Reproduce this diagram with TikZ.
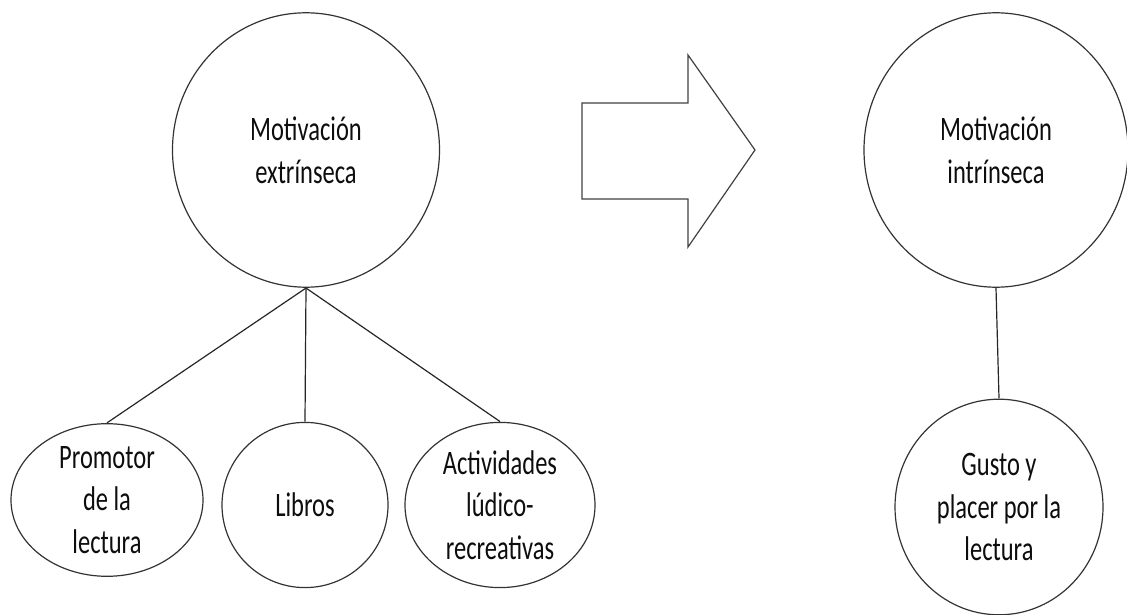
\documentclass[tikz,border=0pt]{standalone}
\usepackage{fontspec}
\setmainfont{Carlito}
\usetikzlibrary{shapes.geometric}

\begin{document}
\begin{tikzpicture}[
    x=1pt, y=1pt,
    font=\fontsize{24.5}{30.5}\selectfont,
    bubble/.style={draw=black!80, line width=1.2pt, ellipse, inner sep=0pt, align=center, text=black!95, yscale=1.4, transform shape},
    link/.style={draw=black!85, line width=1.2pt}
]
\useasboundingbox (0,0) rectangle (1127,614);

% motivacion extrinseca y sus factores
\node[bubble, minimum width=267pt, minimum height=196pt] (extr) at (306,464) {Motivación\\ extrínseca};
\node[bubble, minimum width=192pt, minimum height=109pt] (prom) at (107,114) {Promotor\\ de la\\ lectura};
\node[bubble, minimum width=166pt, minimum height=118pt] (libros) at (305,109) {Libros};
\node[bubble, minimum width=190pt, minimum height=118pt] (activ) at (500,109) {Actividades\\ lúdico-\\ recreativas};
\draw[link] (extr.south) -- (prom.north);
\draw[link] (extr.south) -- (libros.north);
\draw[link] (extr.south) -- (activ.north);

% flecha de paso
\draw[draw=black!75, line width=1.2pt, line join=miter]
    (582,511) -- (688,511) -- (688,559) -- (755,464) -- (688,367) -- (688,415) -- (582,415) -- cycle;

% motivacion intrinseca
\node[bubble, minimum width=264pt, minimum height=196pt] (intr) at (996,464) {Motivación\\ intrínseca};
\node[bubble, minimum width=208pt, minimum height=154pt] (gusto) at (999,107) {Gusto y\\ placer por la\\ lectura};
\draw[link] (intr.south) -- (gusto.north);
\end{tikzpicture}
\end{document}
